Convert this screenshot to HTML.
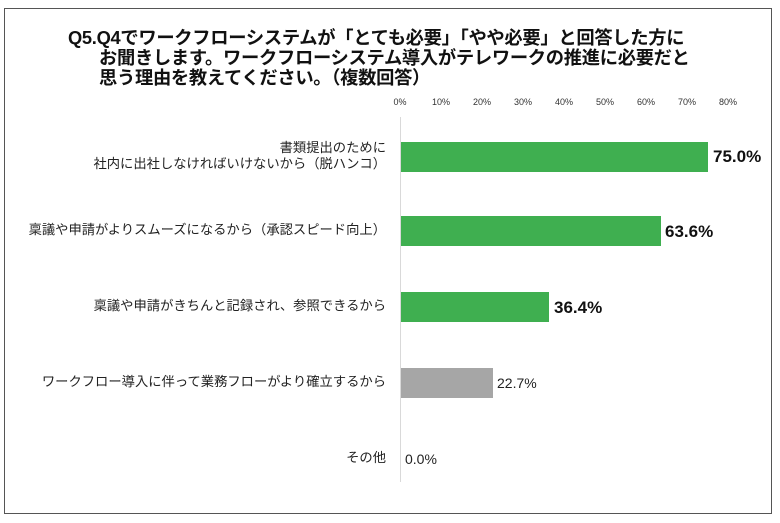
<!DOCTYPE html>
<html><head><meta charset="utf-8"><style>
body{margin:0;width:780px;height:523px;background:#fff;position:relative;overflow:hidden;font-family:"Liberation Sans","Noto Sans CJK JP",sans-serif}
.frame{position:absolute;left:4px;top:8px;width:768px;height:506px;border:1.5px solid #555;box-sizing:border-box}
.t{position:absolute;font-weight:bold;font-size:18.3px;line-height:20px;color:#111;white-space:nowrap;letter-spacing:-0.3px}
.tick{position:absolute;top:97px;font-size:9px;color:#333;transform:translateX(-50%)}
.axis{position:absolute;left:400px;top:117px;width:1px;height:365px;background:#d9d9d9}
.bar{position:absolute;left:401px;height:30px}
.lab{position:absolute;right:394px;font-size:13.3px;color:#222;text-align:right;line-height:16px;white-space:nowrap}
.val{position:absolute;font-size:17px;font-weight:bold;color:#111}
.val2{position:absolute;font-size:14px;color:#222}
</style></head><body>
<div class="frame"></div>
<div class="t" style="left:68px;top:28px">Q5.Q4でワークフローシステムが「とても必要」「やや必要」と回答した方に</div>
<div class="t" style="left:99px;top:48px">お聞きします。ワークフローシステム導入がテレワークの推進に必要だと</div>
<div class="t" style="left:99px;top:68px">思う理由を教えてください。（複数回答）</div>
<div class="tick" style="left:400px">0%</div>
<div class="tick" style="left:441px">10%</div>
<div class="tick" style="left:482px">20%</div>
<div class="tick" style="left:523px">30%</div>
<div class="tick" style="left:564px">40%</div>
<div class="tick" style="left:605px">50%</div>
<div class="tick" style="left:646px">60%</div>
<div class="tick" style="left:687px">70%</div>
<div class="tick" style="left:728px">80%</div>
<div class="axis"></div>
<div class="bar" style="top:142px;width:307px;background:#3faf50"></div>
<div class="bar" style="top:216px;width:260px;background:#3faf50"></div>
<div class="bar" style="top:292px;width:148px;background:#3faf50"></div>
<div class="bar" style="top:368px;width:92px;background:#a6a6a6"></div>
<div class="lab" style="top:140px">書類提出のために<br>社内に出社しなければいけないから（脱ハンコ）</div>
<div class="lab" style="top:222px">稟議や申請がよりスムーズになるから（承認スピード向上）</div>
<div class="lab" style="top:298px">稟議や申請がきちんと記録され、参照できるから</div>
<div class="lab" style="top:374px">ワークフロー導入に伴って業務フローがより確立するから</div>
<div class="lab" style="top:450px">その他</div>
<div class="val" style="left:713px;top:147px">75.0%</div>
<div class="val" style="left:665px;top:222px">63.6%</div>
<div class="val" style="left:554px;top:298px">36.4%</div>
<div class="val2" style="left:497px;top:375px">22.7%</div>
<div class="val2" style="left:405px;top:451px">0.0%</div>
</body></html>
